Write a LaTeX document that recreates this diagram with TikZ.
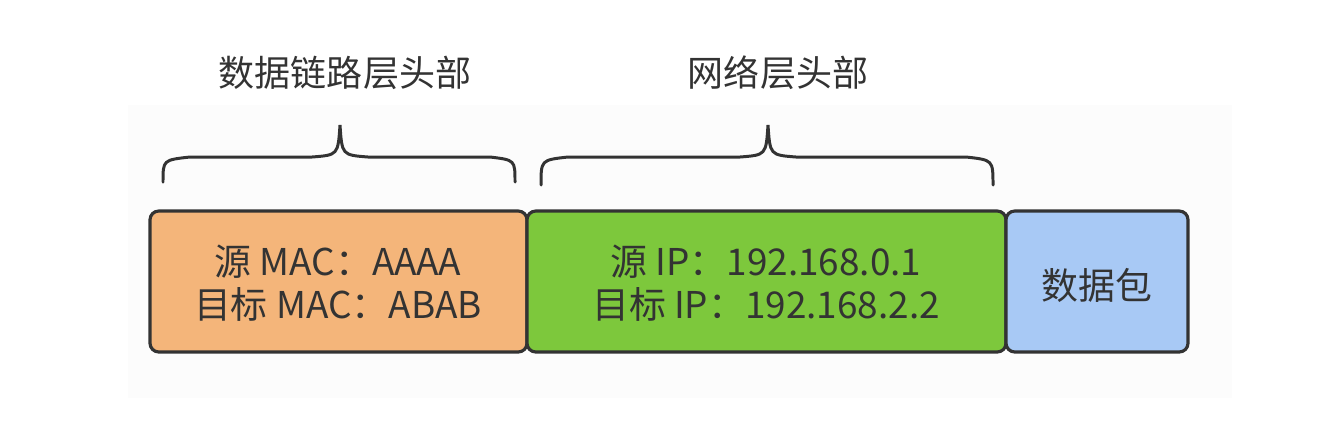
\documentclass[tikz,border=0pt]{standalone}
\usepackage{fontspec}
\setmainfont{Noto Sans CJK SC}
\definecolor{orng}{HTML}{F4B57A}
\definecolor{grn}{HTML}{7DC83C}
\definecolor{blu}{HTML}{A8C9F5}
\definecolor{edge}{HTML}{333333}
\begin{document}
\begin{tikzpicture}[x=0.02cm,y=-0.02cm,
  fld/.style={draw=edge,line width=1.8pt,rounded corners=5pt},
  txt/.style={font=\fontsize{21}{24.5}\selectfont,text=edge,align=center},
  hd/.style={font=\fontsize{20.5}{24}\selectfont,text=edge},
  brc/.style={draw=edge,line width=1.7pt,line cap=round}]
\useasboundingbox (0,0) rectangle (1324,434);
\fill[gray!2] (128,105) rectangle (1232,398);
\draw[fld,fill=orng] (150,211) rectangle (527,352);
\draw[fld,fill=grn] (527,211) rectangle (1006,352);
\draw[fld,fill=blu] (1006,211) rectangle (1188,352);
\node[txt] (a) at (338,283) {源 MAC：AAAA\\目标 MAC：ABAB};
\node[txt] (b) at (766,283) {源 IP：192.168.0.1\\目标 IP：192.168.2.2};
\node[txt] (c) at (1097,285) {数据包};
\node[hd] (h1) at (345,73) {数据链路层头部};
\node[hd] (h2) at (778,73) {网络层头部};
\draw[brc] (163,182) .. controls (163,160) .. (190,157) -- (312,157) .. controls (338,155) .. (340,125)
  .. controls (342,155) .. (368,157) -- (490,157) .. controls (515,160) .. (515,182);
\draw[brc] (541,185) .. controls (541,160) .. (568,157) -- (740,157) .. controls (766,155) .. (768,125)
  .. controls (770,155) .. (796,157) -- (966,157) .. controls (993,160) .. (993,185);
\end{tikzpicture}
\end{document}
